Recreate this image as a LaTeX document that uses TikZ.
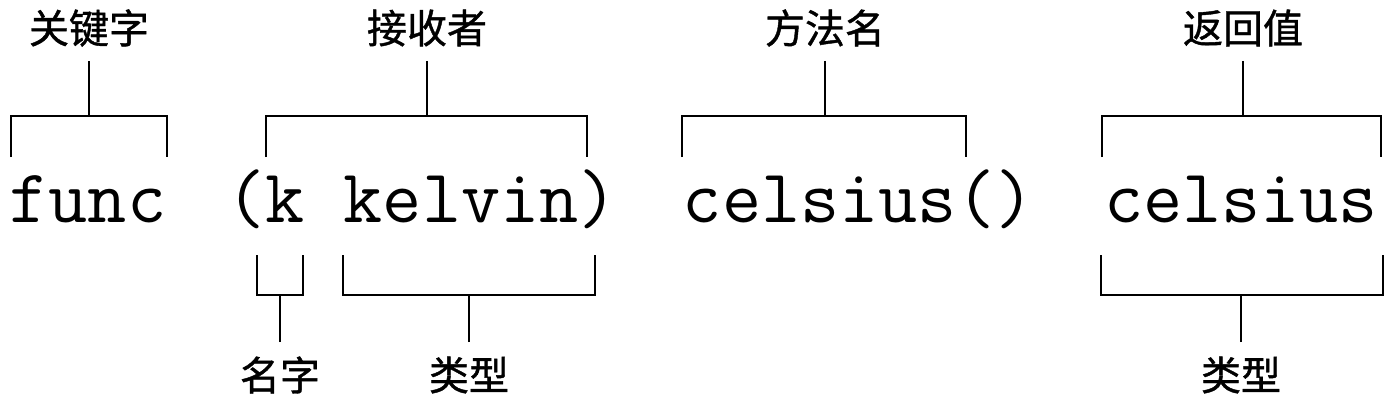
\documentclass[tikz,border=0pt]{standalone}
\usepackage{fontspec}
\newfontfamily\cjkfont{Noto Sans CJK SC}[FakeBold=1]
\usepackage{tikz}
\usetikzlibrary{positioning}

\begin{document}
\begin{tikzpicture}[x=0.5pt, y=-0.5pt,
    code/.style={font=\ttfamily\fontsize{38}{38}\selectfont, inner sep=0pt, anchor=base},
    tag/.style={font=\cjkfont\fontsize{20}{20}\selectfont, inner sep=0pt},
    brk/.style={line width=1.2pt},
    stem/.style={line width=1.2pt, shorten <=7pt}
]
    \useasboundingbox (0,0) rectangle (1394,402);

    % the code line
    \node[code] (kw) at (88,222) {func};
    \node[code] (rcv) at (422,222) {(k kelvin)};
    \node[code] (mth) at (859,222) {celsius()};
    \node[code] (ret) at (1241,222) {celsius};

    % labels above
    \node[tag] (kwlbl) at (89,28) {关键字};
    \node[tag] (rcvlbl) at (427,28) {接收者};
    \node[tag] (mthlbl) at (825,28) {方法名};
    \node[tag] (retlbl) at (1243,28) {返回值};

    % brackets above
    \draw[brk] (11,157) |- (167,116) -- (167,157);
    \draw[brk] (266,157) |- (587,116) -- (587,157);
    \draw[brk] (682,157) |- (966,116) -- (966,157);
    \draw[brk] (1102,157) |- (1381,116) -- (1381,157);
    \coordinate (kwtop) at (89,116);
    \coordinate (rcvtop) at (427,116);
    \coordinate (mthtop) at (825,116);
    \coordinate (rettop) at (1243,116);
    \draw[stem] (kwlbl.south) -- (kwtop);
    \draw[stem] (rcvlbl.south) -- (rcvtop);
    \draw[stem] (mthlbl.south) -- (mthtop);
    \draw[stem] (retlbl.south) -- (rettop);

    % labels below
    \node[tag] (namelbl) at (280,375) {名字};
    \node[tag] (typelbl) at (469,375) {类型};
    \node[tag] (rtypelbl) at (1241,375) {类型};

    % brackets below
    \draw[brk] (257,255) |- (303,295) -- (303,255);
    \draw[brk] (343,255) |- (595,295) -- (595,255);
    \draw[brk] (1101,255) |- (1383,295) -- (1383,255);
    \coordinate (namebot) at (280,295);
    \coordinate (typebot) at (469,295);
    \coordinate (rtypebot) at (1241,295);
    \draw[stem] (namelbl.north) -- (namebot);
    \draw[stem] (typelbl.north) -- (typebot);
    \draw[stem] (rtypelbl.north) -- (rtypebot);
\end{tikzpicture}
\end{document}
